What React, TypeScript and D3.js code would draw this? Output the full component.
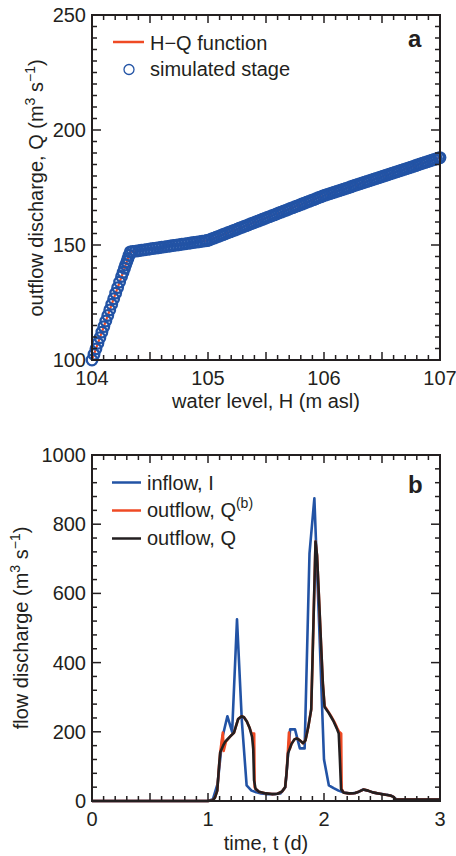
import React from 'react';
import * as d3 from 'd3';

// ---------- Panel a data ----------
const HQ_H = [104.0, 104.33, 105.0, 106.0, 107.0];
const HQ_Q = [100, 147, 152, 171.5, 188];

const STAGE_H = [
  104.0, 104.017, 104.034, 104.051, 104.068, 104.085, 104.102, 104.119, 104.136, 104.153,
  104.17, 104.187, 104.204, 104.221, 104.238, 104.255, 104.268, 104.28, 104.29, 104.3, 104.31, 104.32, 104.33,
  104.35, 104.375, 104.40, 104.425, 104.45, 104.475, 104.50, 104.525, 104.55, 104.575, 104.60,
  104.625, 104.65, 104.675, 104.70, 104.725, 104.75, 104.775, 104.80, 104.825, 104.85, 104.875,
  104.90, 104.925, 104.95, 104.975, 104.99,
  105.01, 105.03, 105.05, 105.07, 105.09, 105.11, 105.13, 105.15, 105.17, 105.19,
  105.21, 105.23, 105.25, 105.27, 105.29, 105.31, 105.33, 105.35, 105.37, 105.39,
  105.41, 105.43, 105.45, 105.47, 105.49, 105.51, 105.53, 105.55, 105.57, 105.59,
  105.61, 105.63, 105.65, 105.67, 105.69, 105.71, 105.73, 105.75, 105.77, 105.79,
  105.81, 105.83, 105.85, 105.87, 105.89, 105.91, 105.93, 105.95, 105.97, 105.99,
  106.01, 106.03, 106.05, 106.07, 106.09, 106.11, 106.13, 106.15, 106.17, 106.19,
  106.21, 106.23, 106.25, 106.27, 106.29, 106.31, 106.33, 106.35, 106.37, 106.39,
  106.41, 106.43, 106.45, 106.47, 106.49, 106.51, 106.53, 106.55, 106.57, 106.59,
  106.61, 106.63, 106.65, 106.67, 106.69, 106.71, 106.73, 106.75, 106.77, 106.79,
  106.81, 106.83, 106.85, 106.87, 106.89, 106.91, 106.93, 106.95, 106.97, 106.99, 107.0,
];

const A_XTICK_LABELS = [104, 105, 106, 107];
const A_YTICK_LABELS = [100, 150, 200, 250];

// ---------- Panel b data ----------
const IN_T = [0, 1.0, 1.042, 1.083, 1.125, 1.167, 1.208, 1.25, 1.292, 1.333, 1.375, 1.417, 1.458, 1.5, 1.542,
  1.583, 1.625, 1.667, 1.708, 1.75, 1.792, 1.833, 1.875, 1.917, 1.958, 2.0, 2.042, 2.083, 2.125, 2.167,
  2.208, 2.25, 2.292, 2.333, 2.375, 2.417, 2.458, 2.5, 2.542, 2.583, 2.625, 2.667, 2.75, 2.875, 3.0];
const IN_Q = [0, 0, 5, 50, 185, 245, 200, 525, 230, 45, 30, 25, 22, 20, 20,
  20, 22, 40, 207, 207, 152, 152, 716, 875, 510, 120, 45, 37, 30, 25,
  22, 22, 25, 33, 30, 25, 22, 20, 18, 15, 5, 4, 4, 4, 4];

const QB_T = [0, 1.0, 1.04, 1.06, 1.08, 1.095, 1.105, 1.128, 1.135, 1.155, 1.19, 1.225, 1.24, 1.26, 1.29,
  1.31, 1.335, 1.36, 1.375, 1.385, 1.398, 1.402, 1.41, 1.44, 1.5, 1.55, 1.6, 1.64, 1.665, 1.677, 1.69,
  1.698, 1.705, 1.72, 1.745, 1.765, 1.79, 1.82, 1.84, 1.865, 1.89, 1.905, 1.927, 1.94, 1.955, 1.975,
  1.99, 2.005, 2.03, 2.06, 2.09, 2.115, 2.13, 2.148, 2.152, 2.17, 2.22, 2.27, 2.3, 2.34, 2.38, 2.42,
  2.48, 2.53, 2.57, 2.6, 2.615, 2.7, 2.9, 3.0];
const QB_V = [0, 0, 2, 10, 30, 100, 140, 198, 145, 172, 186, 198, 215, 237, 245,
  242, 230, 210, 196, 195, 195, 40, 35, 27, 22, 20, 21, 28, 40, 80, 150,
  198, 150, 165, 178, 181, 176, 167, 175, 215, 265, 460, 750, 710, 600, 450,
  340, 275, 262, 246, 228, 210, 200, 195, 35, 24, 22, 23, 27, 33, 30, 25,
  21, 18, 16, 12, 5, 4, 4, 4];

const Q_T = [0, 1.0, 1.04, 1.06, 1.08, 1.095, 1.105, 1.13, 1.15, 1.19, 1.225, 1.24, 1.26, 1.29, 1.31,
  1.335, 1.36, 1.38, 1.39, 1.397, 1.41, 1.44, 1.5, 1.55, 1.6, 1.64, 1.665, 1.677, 1.69, 1.72, 1.745,
  1.765, 1.79, 1.82, 1.84, 1.865, 1.89, 1.905, 1.927, 1.94, 1.955, 1.975, 1.99, 2.005, 2.04, 2.08,
  2.11, 2.127, 2.137, 2.147, 2.17, 2.22, 2.27, 2.3, 2.34, 2.38, 2.42, 2.48, 2.53, 2.57, 2.6, 2.615,
  2.7, 2.9, 3.0];
const Q_V = [0, 0, 2, 10, 30, 100, 140, 160, 172, 186, 198, 215, 237, 245, 242,
  230, 210, 185, 150, 60, 35, 27, 22, 20, 21, 28, 40, 80, 138, 165, 178,
  181, 176, 167, 175, 215, 265, 460, 750, 710, 600, 450, 340, 272, 255, 232,
  210, 195, 120, 35, 24, 22, 23, 27, 33, 30, 25, 21, 18, 16, 12, 5,
  4, 4, 4];

const B_XTICK_LABELS = [0, 1, 2, 3];
const B_YTICK_LABELS = [0, 200, 400, 600, 800, 1000];

// ---------- styles ----------
const INK = '#231f20';
const BLUE = '#2253a5';
const RED = '#ef4a24';
const FONT = '"Liberation Sans", Arial, Helvetica, sans-serif';

type Box = { left: number; right: number; top: number; bottom: number };

function Frame(props: {
  box: Box;
  x: d3.ScaleLinear<number, number>;
  y: d3.ScaleLinear<number, number>;
  xMinor: number[];
  xMajor: number[];
  yMinor: number[];
  yMajor: number[];
  xLabels: number[];
  yLabels: number[];
}) {
  const { box, x, y, xMinor, xMajor, yMinor, yMajor, xLabels, yLabels } = props;
  const ticks: React.ReactNode[] = [];
  const isIn = (arr: number[], v: number) => arr.some((a) => Math.abs(a - v) < 1e-6);
  xMinor.forEach((v, i) => {
    const L = isIn(xMajor, v) ? 8 : 5;
    const px = x(v);
    ticks.push(<line key={'xb' + i} x1={px} x2={px} y1={box.bottom} y2={box.bottom - L} />);
    ticks.push(<line key={'xt' + i} x1={px} x2={px} y1={box.top} y2={box.top + L} />);
  });
  yMinor.forEach((v, i) => {
    const L = isIn(yMajor, v) ? 9 : 5;
    const py = y(v);
    ticks.push(<line key={'yl' + i} x1={box.left} x2={box.left + L} y1={py} y2={py} />);
    ticks.push(<line key={'yr' + i} x1={box.right} x2={box.right - L} y1={py} y2={py} />);
  });
  return (
    <g>
      <g stroke={INK} strokeWidth={1.5}>{ticks}</g>
      <rect x={box.left} y={box.top} width={box.right - box.left} height={box.bottom - box.top}
        fill="none" stroke={INK} strokeWidth={2} />
      <g fontFamily={FONT} fontSize={20} fill={INK}>
        {xLabels.map((v) => (
          <text key={'xl' + v} x={x(v)} y={box.bottom + 25} textAnchor="middle">{v}</text>
        ))}
        {yLabels.map((v) => (
          <text key={'yl' + v} x={box.left - 6} y={y(v) + 7} textAnchor="end">{v}</text>
        ))}
      </g>
    </g>
  );
}

export default function App() {
  // Panel a
  const boxA: Box = { left: 92, right: 440, top: 15, bottom: 360 };
  const xA = d3.scaleLinear().domain([104, 107]).range([boxA.left, boxA.right]);
  const yA = d3.scaleLinear().domain([100, 250]).range([boxA.bottom, boxA.top]);
  const hq = d3.scaleLinear().domain(HQ_H).range(HQ_Q);
  const hqLine = d3.line<number>().x((_, i) => xA(HQ_H[i])).y((_, i) => yA(HQ_Q[i]));

  // Panel b
  const boxB: Box = { left: 92, right: 440, top: 455, bottom: 801 };
  const xB = d3.scaleLinear().domain([0, 3]).range([boxB.left, boxB.right]);
  const yB = d3.scaleLinear().domain([0, 1000]).range([boxB.bottom, boxB.top]);
  const mk = (T: number[], V: number[]) =>
    d3.line<number>().x((_, i) => xB(T[i])).y((_, i) => yB(V[i]))(V) || '';

  const r = (a: number, b: number, s: number) =>
    d3.range(Math.round((b - a) / s) + 1).map((i) => +(a + i * s).toFixed(6));

  return (
    <svg width={456} height={856} style={{ position: 'absolute', left: 0, top: 0, background: '#fff' }}
      xmlns="http://www.w3.org/2000/svg">
      <rect x={0} y={0} width={456} height={856} fill="#fff" />
      {/* ---------- Panel a ---------- */}
      <path d={hqLine(HQ_H) || ''} fill="none" stroke={RED} strokeWidth={2.2} />
      <g fill="none" stroke={BLUE} strokeWidth={2.3}>
        {STAGE_H.map((h, i) => (
          <circle key={i} cx={xA(h)} cy={yA(hq(h))} r={5.3} />
        ))}
      </g>
      <Frame box={boxA} x={xA} y={yA}
        xMinor={r(104, 107, 0.1)} xMajor={r(104, 107, 0.5)}
        yMinor={r(100, 250, 5)} yMajor={r(100, 250, 50)}
        xLabels={A_XTICK_LABELS} yLabels={A_YTICK_LABELS} />
      <g fontFamily={FONT} fontSize={20} fill={INK}>
        <line x1={113} x2={144} y1={42} y2={42} stroke={RED} strokeWidth={2.5} />
        <text x={150} y={50}>H−Q function</text>
        <circle cx={129} cy={69.5} r={5} fill="none" stroke={BLUE} strokeWidth={1.3} />
        <text x={150} y={76}>simulated stage</text>
        <text x={408} y={47} fontWeight="bold" fontSize={24}>a</text>
        <text x={266} y={408} textAnchor="middle">water level, H (m asl)</text>
        <text transform="translate(43,188) rotate(-90)" textAnchor="middle">
          outflow discharge, Q (m<tspan dy={-8} fontSize={14}>3</tspan>
          <tspan dy={8}> s</tspan><tspan dy={-8} fontSize={14}>−1</tspan><tspan dy={8}>)</tspan>
        </text>
      </g>

      {/* ---------- Panel b ---------- */}
      <path d={mk(IN_T, IN_Q)} fill="none" stroke={BLUE} strokeWidth={2.6} strokeLinejoin="round" />
      <path d={mk(QB_T, QB_V)} fill="none" stroke={RED} strokeWidth={2.6} strokeLinejoin="round" />
      <path d={mk(Q_T, Q_V)} fill="none" stroke={INK} strokeWidth={2.6} strokeLinejoin="round" />
      <Frame box={boxB} x={xB} y={yB}
        xMinor={r(0, 3, 0.1)} xMajor={r(0, 3, 0.5)}
        yMinor={r(0, 1000, 40)} yMajor={r(0, 1000, 200)}
        xLabels={B_XTICK_LABELS} yLabels={B_YTICK_LABELS} />
      <g fontFamily={FONT} fontSize={20} fill={INK}>
        <line x1={112} x2={141} y1={482.5} y2={482.5} stroke={BLUE} strokeWidth={2.5} />
        <text x={147} y={490}>inflow, I</text>
        <line x1={112} x2={141} y1={510.5} y2={510.5} stroke={RED} strokeWidth={2.5} />
        <text x={147} y={517}>outflow, Q<tspan dy={-9} fontSize={14}>(b)</tspan></text>
        <line x1={112} x2={141} y1={538.5} y2={538.5} stroke={INK} strokeWidth={2.5} />
        <text x={147} y={545}>outflow, Q</text>
        <text x={408} y={493} fontWeight="bold" fontSize={24}>b</text>
        <text x={266} y={850} textAnchor="middle">time, t (d)</text>
        <text transform="translate(28,628) rotate(-90)" textAnchor="middle">
          flow discharge (m<tspan dy={-8} fontSize={14}>3</tspan>
          <tspan dy={8}> s</tspan><tspan dy={-8} fontSize={14}>−1</tspan><tspan dy={8}>)</tspan>
        </text>
      </g>
    </svg>
  );
}
